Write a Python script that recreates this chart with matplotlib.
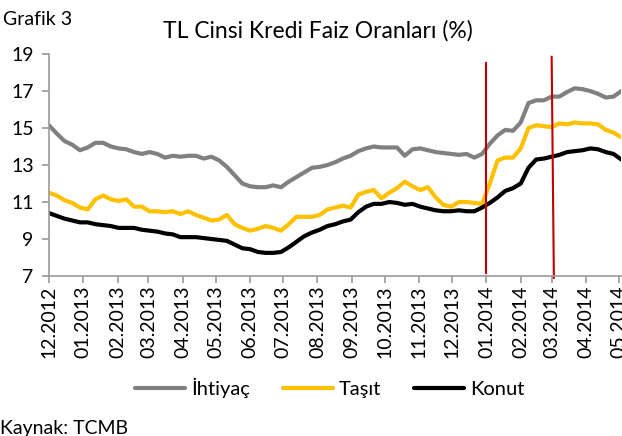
import matplotlib
matplotlib.use("Agg")
import matplotlib.pyplot as plt
import pandas as pd

plt.rcParams['font.family'] = ['Lato', 'DejaVu Sans']

# weekly loan rates (%), Dec 2012 - May 2014
dates = pd.date_range("2012-12-01", periods=75, freq="7D")

ihtiyac = [15.15, 14.7, 14.3, 14.1, 13.8, 13.95, 14.2, 14.2, 14.0, 13.9,
           13.85, 13.7, 13.6, 13.7, 13.6, 13.4, 13.5, 13.45, 13.5, 13.5,
           13.35, 13.45, 13.25, 12.9, 12.45, 12.0, 11.85, 11.8, 11.8, 11.9,
           11.8, 12.1, 12.35, 12.6, 12.85, 12.9, 13.0, 13.15, 13.35, 13.5,
           13.75, 13.9, 14.0, 13.95, 13.95, 13.95, 13.5, 13.85, 13.9, 13.8,
           13.7, 13.65, 13.6, 13.55, 13.6, 13.4, 13.6, 14.15, 14.6, 14.9,
           14.85, 15.3, 16.35, 16.5, 16.5, 16.7, 16.7, 16.95, 17.15, 17.1,
           17.0, 16.85, 16.65, 16.7, 17.0]

tasit = [11.5, 11.35, 11.1, 10.95, 10.7, 10.6, 11.15, 11.35, 11.15, 11.05,
         11.15, 10.75, 10.75, 10.5, 10.5, 10.45, 10.5, 10.35, 10.5, 10.3,
         10.15, 10.0, 10.05, 10.3, 9.8, 9.6, 9.45, 9.55, 9.7, 9.6,
         9.45, 9.8, 10.2, 10.2, 10.2, 10.3, 10.6, 10.7, 10.8, 10.7,
         11.4, 11.55, 11.65, 11.2, 11.5, 11.75, 12.1, 11.85, 11.65, 11.8,
         11.25, 10.85, 10.75, 11.0, 11.0, 10.95, 10.9, 12.0, 13.25, 13.4,
         13.4, 13.9, 15.0, 15.15, 15.1, 15.05, 15.25, 15.2, 15.3, 15.25,
         15.25, 15.2, 14.9, 14.75, 14.5]

konut = [10.4, 10.25, 10.1, 10.0, 9.9, 9.9, 9.8, 9.75, 9.7, 9.6,
         9.6, 9.6, 9.5, 9.45, 9.4, 9.3, 9.25, 9.1, 9.1, 9.1,
         9.05, 9.0, 8.95, 8.9, 8.7, 8.5, 8.45, 8.3, 8.25, 8.25,
         8.3, 8.55, 8.85, 9.15, 9.35, 9.5, 9.7, 9.8, 9.95, 10.05,
         10.45, 10.75, 10.9, 10.9, 11.0, 10.95, 10.85, 10.9, 10.75, 10.65,
         10.55, 10.5, 10.5, 10.55, 10.5, 10.5, 10.7, 10.95, 11.25, 11.6,
         11.75, 12.0, 12.85, 13.3, 13.35, 13.45, 13.55, 13.7, 13.75, 13.8,
         13.9, 13.85, 13.7, 13.6, 13.3]

tick_dates = pd.date_range("2012-12-01", "2014-05-01", freq="MS")
tick_labels = [d.strftime("%m.%Y") for d in tick_dates]

# red event markers drawn on the chart
event_dates = [pd.Timestamp("2014-01-01"), pd.Timestamp("2014-03-01")]

fig = plt.figure(figsize=(6.22, 4.36), dpi=100)
ax = fig.add_axes([0.0788, 0.367, 0.92, 0.509])

ax.plot(dates, ihtiyac, color="#808080", lw=3, label="İhtiyaç", solid_capstyle="round", solid_joinstyle="round")
ax.plot(dates, tasit, color="#FFC000", lw=3, label="Taşıt", solid_capstyle="round", solid_joinstyle="round")
ax.plot(dates, konut, color="#000000", lw=3, label="Konut", solid_capstyle="round", solid_joinstyle="round")

ax.plot([event_dates[0], event_dates[0]], [18.5, 7.15], color="#C00000", lw=1.5, clip_on=False)
ax.plot([event_dates[1], event_dates[1] + pd.Timedelta(days=2)], [18.85, 6.9], color="#C00000", lw=1.5, clip_on=False)

ax.set_ylim(7, 19)
ax.set_yticks(range(7, 20, 2))
ax.set_xlim(dates[0], dates[-1])
ax.set_xticks(tick_dates)
ax.set_xticklabels(tick_labels, rotation=90)

for s in ["top", "right"]:
    ax.spines[s].set_visible(False)
for s in ["left", "bottom"]:
    ax.spines[s].set_color("#9a9a9a")
    ax.spines[s].set_linewidth(1.2)
ax.tick_params(axis="both", colors="#9a9a9a", length=5, width=1.2, labelsize=14, labelcolor="black")
ax.tick_params(axis="x", pad=2)
ax.tick_params(axis="y", pad=6)

ax.set_title("TL Cinsi Kredi Faiz Oranları (%)", fontsize=16.5, pad=12, x=0.47)
fig.text(0.005, 0.955, "Grafik 3", fontsize=14, va="center", ha="left")
fig.text(0.0, 0.018, "Kaynak: TCMB", fontsize=14, va="center", ha="left")

fig.legend(loc="center", bbox_to_anchor=(0.53, 0.11), ncol=3, frameon=False,
           fontsize=14.5, handlelength=2.5, columnspacing=1.6, handletextpad=0.3)

fig.savefig("out.png", dpi=100)
